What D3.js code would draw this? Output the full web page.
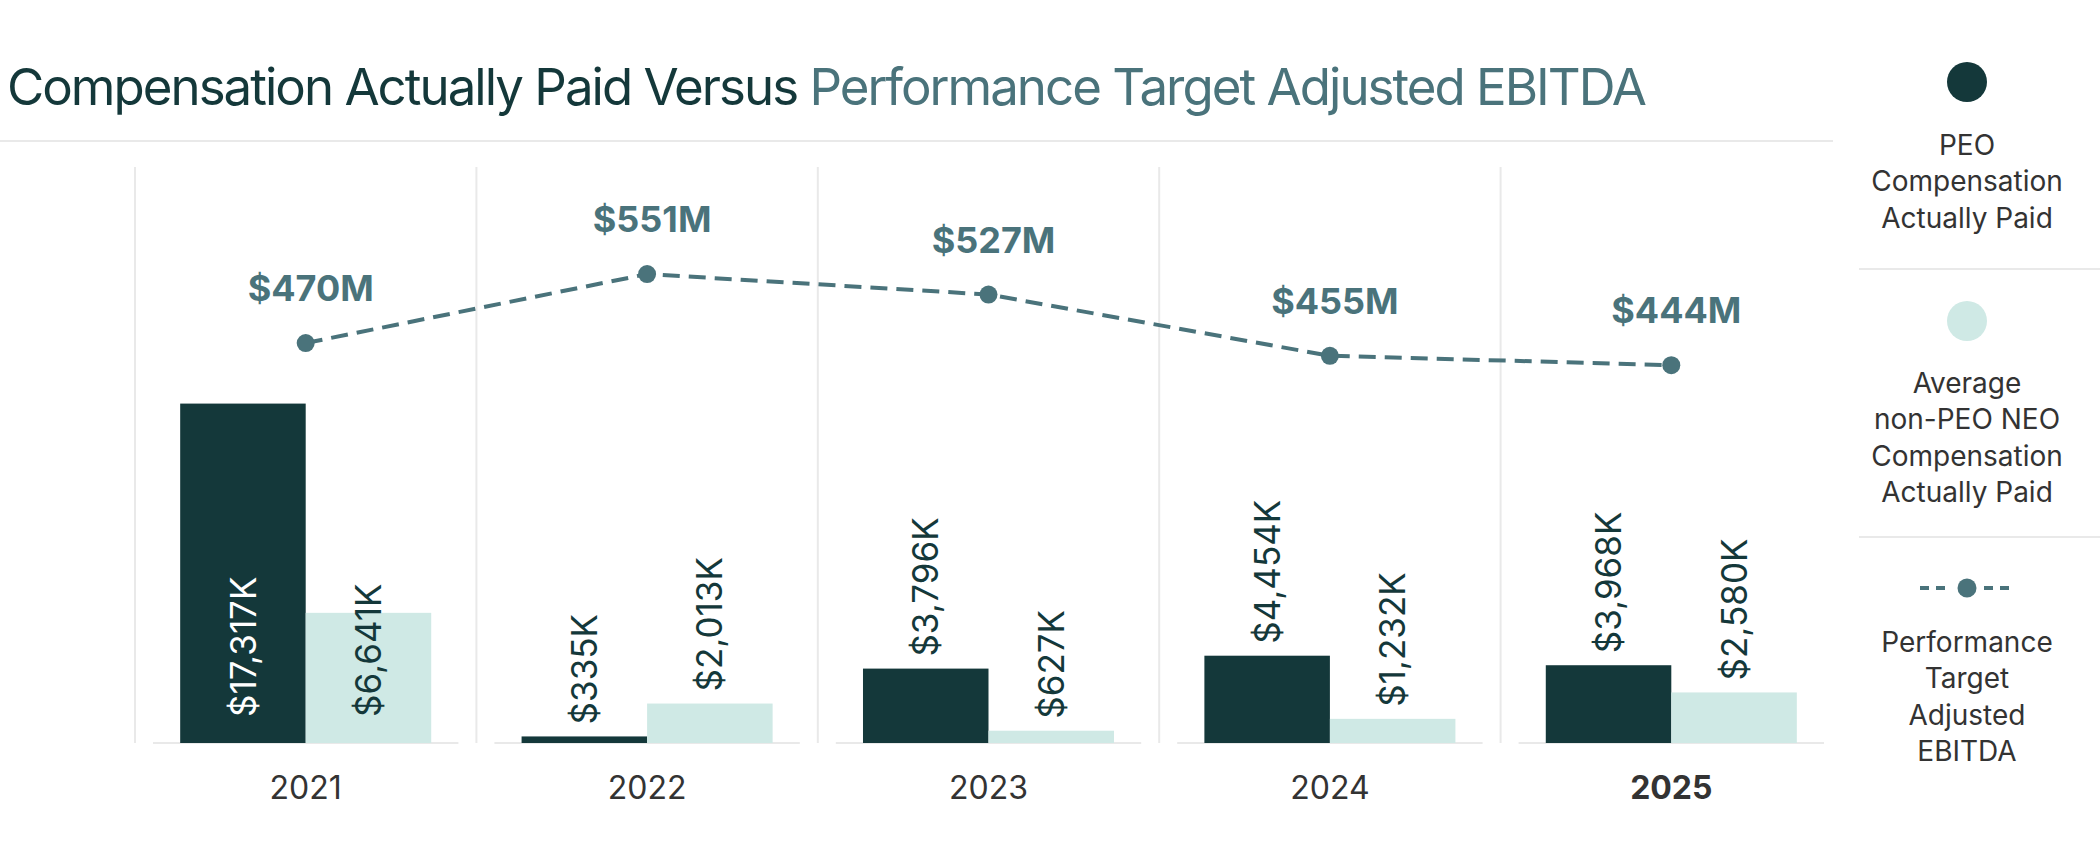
<!DOCTYPE html>
<html>
<head>
<meta charset="utf-8">
<script src="https://cdn.jsdelivr.net/npm/d3@7"></script>
<style>
  html, body { margin: 0; padding: 0; background: #fff; }
  svg { display: block; font-family: Inter, "Noto Sans", sans-serif; }
</style>
</head>
<body>
<svg id="chart" width="2100" height="864"></svg>
<script>
const years = ['2021', '2022', '2023', '2024', '2025'];
const peoCap = [17317, 335, 3796, 4454, 3968];
const neoCap = [6641, 2013, 627, 1232, 2580];
const ebitda = [470, 551, 527, 455, 444];
const titleParts = ['Compensation Actually Paid Versus ', 'Performance Target Adjusted EBITDA'];
const legendItems = [
    ['PEO', 'Compensation', 'Actually Paid'],
    ['Average', 'non-PEO NEO', 'Compensation', 'Actually Paid'],
    ['Performance', 'Target', 'Adjusted', 'EBITDA']
];

const dark = '#14383a';
const light = '#cfe9e5';
const teal = '#4a737b';
const grid = '#e9e9e9';
const textGray = '#333';

const svg = d3.select('#chart');
const base = 743;

// title
const title = svg.append('text').attr('x', 7).attr('y', 105)
    .style('font-size', '51px').style('font-weight', 400);
title.append('tspan').attr('fill', dark).text(titleParts[0]);
title.append('tspan').attr('fill', teal).text(titleParts[1]);
const tl = title.node().getComputedTextLength();
const nChars = (titleParts[0] + titleParts[1]).length;
title.style('letter-spacing', ((1638 - tl) / nChars) + 'px');

svg.append('line').attr('x1', 0).attr('x2', 1833).attr('y1', 141).attr('y2', 141)
    .attr('stroke', grid).attr('stroke-width', 2);

// scales
const x0 = d3.scaleBand().domain(years).range([135, 1842]);
const x1 = d3.scaleBand().domain(['peo', 'neo']).range([0, x0.bandwidth()])
    .paddingInner(0).paddingOuter(0.36);
const yBar = d3.scaleLinear().domain([0, 20000]).range([base, base - 392]);
const yLine = d3.scaleLinear().domain([0, 600]).range([base, base - 510.6]);

// column dividers + baselines
const cols = svg.append('g').selectAll('g').data(years).enter().append('g');
cols.append('line')
    .attr('x1', d => x0(d)).attr('x2', d => x0(d))
    .attr('y1', 167).attr('y2', base)
    .attr('stroke', grid).attr('stroke-width', 2);
cols.append('line')
    .attr('x1', d => x0(d) + 18).attr('x2', d => x0(d) + x0.bandwidth() - 18)
    .attr('y1', base).attr('y2', base)
    .attr('stroke', grid).attr('stroke-width', 2);

// bars
const barData = [];
years.forEach((y, i) => {
    barData.push({ year: y, key: 'peo', value: peoCap[i] });
    barData.push({ year: y, key: 'neo', value: neoCap[i] });
});

svg.append('g').selectAll('rect').data(barData).enter().append('rect')
    .attr('x', d => x0(d.year) + x1(d.key))
    .attr('width', x1.bandwidth())
    .attr('y', d => yBar(d.value))
    .attr('height', d => base - yBar(d.value))
    .attr('fill', d => d.key === 'peo' ? dark : light);

const fmt = d3.format(',');
svg.append('g').selectAll('text').data(barData).enter().append('text')
    .attr('transform', d => {
        const cx = x0(d.year) + x1(d.key) + x1.bandwidth() / 2;
        const inside = d.value > 5000;
        const y0 = inside ? base - 26 : yBar(d.value) - 12;
        return `translate(${cx},${y0}) rotate(-90)`;
    })
    .attr('dy', '0.36em')
    .style('font-size', '35px')
    .attr('fill', d => (d.value > 5000 && d.key === 'peo') ? '#fff' : dark)
    .text(d => `$${fmt(d.value)}K`);

// EBITDA line
const line = d3.line().x((d, i) => x0(years[i]) + x0.bandwidth() / 2).y(d => yLine(d));
svg.append('path').datum(ebitda).attr('d', line)
    .attr('fill', 'none').attr('stroke', teal).attr('stroke-width', 4)
    .attr('stroke-dasharray', '17,9');

svg.append('g').selectAll('circle').data(ebitda).enter().append('circle')
    .attr('cx', (d, i) => x0(years[i]) + x0.bandwidth() / 2)
    .attr('cy', d => yLine(d)).attr('r', 9).attr('fill', teal);

svg.append('g').selectAll('text').data(ebitda).enter().append('text')
    .attr('x', (d, i) => x0(years[i]) + x0.bandwidth() / 2 + 5)
    .attr('y', d => yLine(d) - 42)
    .attr('text-anchor', 'middle')
    .style('font-size', '36px').style('font-weight', 700)
    .attr('fill', teal)
    .text(d => `$${d}M`);

// x labels
svg.append('g').selectAll('text').data(years).enter().append('text')
    .attr('x', d => x0(d) + x0.bandwidth() / 2)
    .attr('y', 799)
    .attr('text-anchor', 'middle')
    .style('font-size', '32px')
    .style('font-weight', (d, i) => i === years.length - 1 ? 700 : 400)
    .attr('fill', textGray)
    .text(d => d);

// legend
const lx = 1967;
const legend = svg.append('g');
legend.append('circle').attr('cx', lx).attr('cy', 82).attr('r', 20).attr('fill', dark);
legend.append('circle').attr('cx', lx).attr('cy', 321).attr('r', 20).attr('fill', light);
legend.append('line').attr('x1', 1920).attr('x2', 2012).attr('y1', 588).attr('y2', 588)
    .attr('stroke', teal).attr('stroke-width', 4).attr('stroke-dasharray', '9,7');
legend.append('rect').attr('x', 1952).attr('y', 575).attr('width', 30).attr('height', 26).attr('fill', '#fff');
legend.append('circle').attr('cx', lx).attr('cy', 588).attr('r', 9.5).attr('fill', teal);

[269, 537].forEach(y => {
    legend.append('line').attr('x1', 1859).attr('x2', 2100).attr('y1', y).attr('y2', y)
        .attr('stroke', grid).attr('stroke-width', 2);
});

const legendTop = [155, 393, 652];
legendItems.forEach((lines, k) => {
    legend.append('text')
        .attr('text-anchor', 'middle')
        .style('font-size', '28px')
        .attr('fill', textGray)
        .selectAll('tspan').data(lines).enter().append('tspan')
        .attr('x', lx).attr('y', (d, i) => legendTop[k] + i * 36.3)
        .text(d => d);
});
</script>
</body>
</html>
